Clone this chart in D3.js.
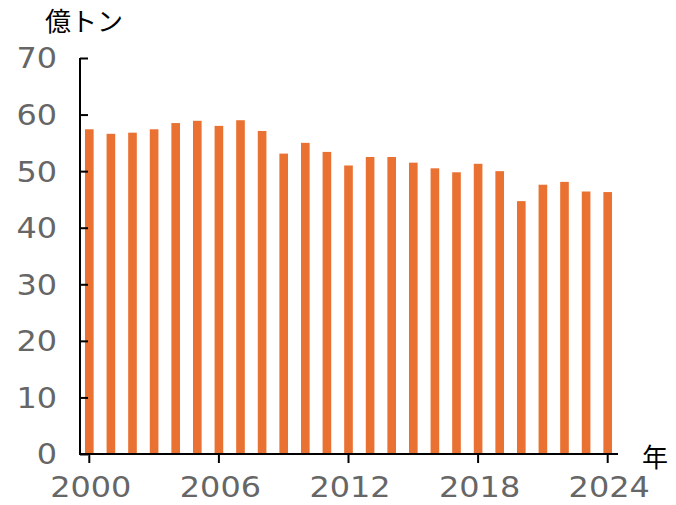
<!DOCTYPE html>
<html><head><meta charset="utf-8">
<script src="https://cdn.jsdelivr.net/npm/d3@7"></script>
<style>body{margin:0;background:#fff}svg{display:block}</style>
</head><body>
<script>
const years = d3.range(2000, 2025);
const values = [57.4,56.6,56.8,57.4,58.5,58.9,58.0,59.0,57.1,53.1,55.0,53.4,51.0,52.5,52.5,51.5,50.5,49.8,51.3,50.0,44.7,47.6,48.1,46.4,46.3];
const yTicks = [0,10,20,30,40,50,60,70];
const xTickYears = [2000,2006,2012,2018,2024];
const yUnit = "億トン";
const xUnit = "年";

const W = 676, H = 505;
const svg = d3.select("body").append("svg").attr("width", W).attr("height", H);

const x = d3.scaleBand().domain(years).range([78.5, 618.5]).paddingInner(0.6).paddingOuter(0.3);
const y = d3.scaleLinear().domain([0, 70]).range([454, 58]);

svg.append("g").selectAll("rect").data(values).join("rect")
  .attr("x", (d,i) => x(years[i]))
  .attr("width", x.bandwidth())
  .attr("y", d => y(d))
  .attr("height", d => y(0) - y(d))
  .attr("fill", "#E97132");

// y axis
const yAx = svg.append("g").attr("transform", "translate(80,0)")
  .call(d3.axisRight(y).tickValues(yTicks).tickSize(8).tickFormat(""));
yAx.select(".domain").attr("d", `M0,${y(70)}V${y(0)}`).attr("stroke", "#000").attr("stroke-width", 2);
yAx.selectAll(".tick line").attr("stroke", "#000").attr("stroke-width", 2);

const digitW = 20.3;
svg.append("g").selectAll("text").data(yTicks).join("text")
  .attr("x", 57).attr("y", d => y(d)).attr("dy", "0.36em")
  .attr("text-anchor", "end").attr("fill", "#666")
  .attr("font-family", "DejaVu Sans, sans-serif").attr("font-size", 29)
  .attr("textLength", d => String(d).length * digitW).attr("lengthAdjust", "spacingAndGlyphs")
  .text(d => d);

// x axis
const xc = d => x(d) + x.bandwidth()/2;
svg.append("line").attr("x1", 79).attr("x2", 618).attr("y1", y(0)).attr("y2", y(0))
  .attr("stroke", "#000").attr("stroke-width", 2);
svg.append("g").selectAll("line").data(xTickYears).join("line")
  .attr("x1", xc).attr("x2", xc).attr("y1", y(0)).attr("y2", y(0) + 9)
  .attr("stroke", "#000").attr("stroke-width", 2);
svg.append("g").selectAll("text").data(xTickYears).join("text")
  .attr("x", d => xc(d) + 1.5).attr("y", 497)
  .attr("text-anchor", "middle").attr("fill", "#666")
  .attr("font-family", "DejaVu Sans, sans-serif").attr("font-size", 29)
  .attr("textLength", d => String(d).length * digitW).attr("lengthAdjust", "spacingAndGlyphs")
  .text(d => d);

svg.append("text").attr("x", 45).attr("y", 31)
  .attr("font-family", "Noto Sans CJK JP, sans-serif").attr("font-size", 26).attr("fill", "#000")
  .text(yUnit);
svg.append("text").attr("x", 642).attr("y", 467)
  .attr("font-family", "Noto Sans CJK JP, sans-serif").attr("font-size", 26).attr("fill", "#000")
  .text(xUnit);
</script>
</body></html>
